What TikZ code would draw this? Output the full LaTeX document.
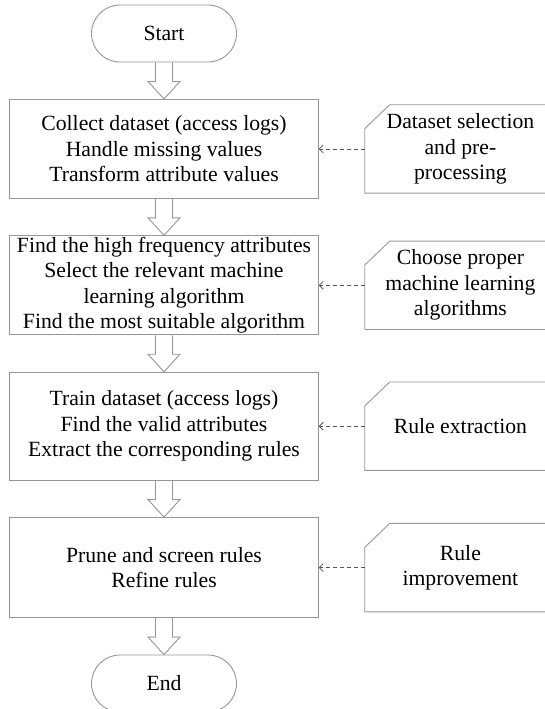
\documentclass[tikz,border=0pt]{standalone}
\usepackage{fontspec}
\setmainfont{Liberation Serif}
\usetikzlibrary{positioning, arrows.meta}

\definecolor{linegray}{RGB}{150,150,150}
\definecolor{dashgray}{RGB}{85,85,85}

% hollow block arrow from the bottom of #1 to the top of #2
\newcommand{\flowarrow}[2]{%
  \draw[hollow] ([xshift=-8.5pt]#1.south) -- ([xshift=-8.5pt,yshift=17.5pt]#2.north)
    -- ([xshift=-16pt,yshift=17.5pt]#2.north) -- (#2.north)
    -- ([xshift=16pt,yshift=17.5pt]#2.north) -- ([xshift=8.5pt,yshift=17.5pt]#2.north)
    -- ([xshift=8.5pt]#1.south);}

\begin{document}
\begin{tikzpicture}[
    node distance=36.5pt,
    txt/.style={font=\fontsize{21.7}{25.5}\selectfont},
    terminal/.style={txt, draw=linegray, line width=0.9pt, rounded corners=28.5pt, minimum width=145pt, minimum height=57pt, inner sep=0pt},
    process/.style={txt, draw=linegray, line width=0.9pt, align=center, minimum width=308.5pt, inner sep=0pt},
    note/.style={txt, align=center, minimum width=191pt, minimum height=88pt, inner sep=0pt},
    outline/.style={draw=linegray, line width=0.9pt},
    hollow/.style={draw=linegray, line width=0.9pt, line join=miter},
    link/.style={-{Straight Barb[length=4pt, width=8pt]}, dashgray, line width=0.8pt, dash pattern=on 4pt off 3pt}
]
    \useasboundingbox (0,0) rectangle (545pt,-709pt);

    % Flow
    \node[terminal] (start) at (164pt,-33.5pt) {Start};
    \node[process, below=of start, minimum height=99pt] (collect) {Collect dataset (access logs)\\Handle missing values\\Transform attribute values};
    \node[process, below=of collect, minimum height=99pt] (select) {Find the high frequency attributes\\Select the relevant machine\\learning algorithm\\Find the most suitable algorithm};
    \node[process, below=of select, minimum height=108pt] (train) {Train dataset (access logs)\\Find the valid attributes\\Extract the corresponding rules};
    \node[process, below=of train, minimum height=100pt] (prune) {Prune and screen rules\\Refine rules};
    \node[terminal, below=of prune] (end) {End};

    % Notes
    \node[note, right=46pt of collect] (dsnote) {Dataset selection\\and pre-\\processing};
    \node[note, right=46pt of select] (mlnote) {Choose proper\\machine learning\\algorithms};
    \node[note, right=46pt of train] (exnote) {Rule extraction};
    \node[note, right=46pt of prune] (imnote) {Rule\\improvement};
    \foreach \n in {dsnote, mlnote, exnote, imnote}
        \draw[outline] ([yshift=-24pt]\n.north west) -- ([xshift=25pt]\n.north west) -- (\n.north east)
            -- (\n.south east) -- (\n.south west) -- cycle;

    % Block arrows
    \flowarrow{start}{collect}
    \flowarrow{collect}{select}
    \flowarrow{select}{train}
    \flowarrow{train}{prune}
    \flowarrow{prune}{end}

    % Dashed links
    \draw[link] (dsnote) -- (collect);
    \draw[link] (mlnote) -- (select);
    \draw[link] (exnote) -- (train);
    \draw[link] (imnote) -- (prune);
\end{tikzpicture}
\end{document}
